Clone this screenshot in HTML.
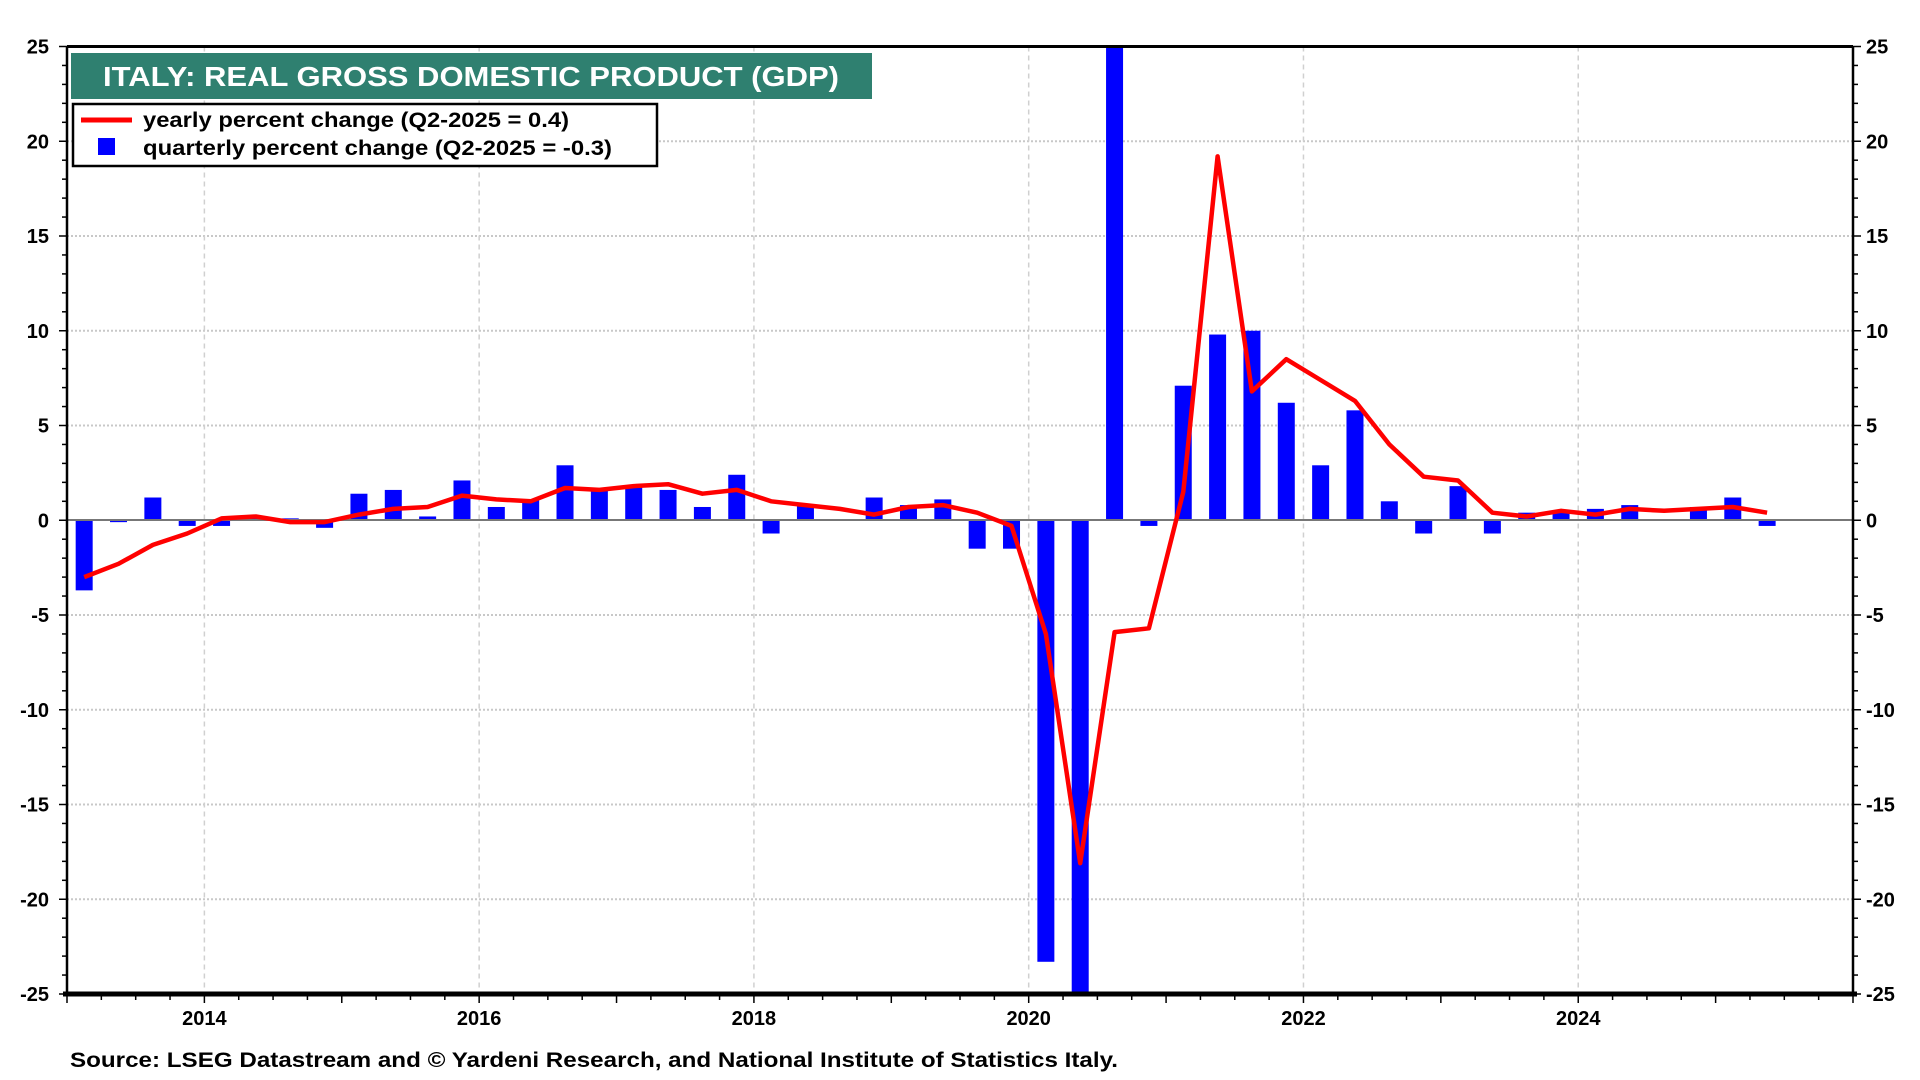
<!DOCTYPE html>
<html><head><meta charset="utf-8"><style>
html,body{margin:0;padding:0;background:#fff;}
svg{display:block;font-family:"Liberation Sans",Arial,sans-serif;font-weight:bold;}
</style></head><body>
<svg id="chart" width="1920" height="1080" viewBox="0 0 1920 1080" xmlns="http://www.w3.org/2000/svg">
<g id="grid"></g>
<g id="bars"></g>
<line x1="67" x2="1853" y1="520" y2="520" stroke="#777" stroke-width="2"/>
<polyline id="line" fill="none" stroke="#ff0000" stroke-width="4.5" stroke-linejoin="round"/>
<g id="axes"></g>
<rect x="71" y="53" width="801" height="46" fill="#2f8070"/>
<text x="103" y="86" fill="#fff" font-size="28" textLength="736" lengthAdjust="spacingAndGlyphs">ITALY: REAL GROSS DOMESTIC PRODUCT (GDP)</text>
<g>
<rect x="73" y="104" width="584" height="62" fill="#fff" stroke="#000" stroke-width="2.5"/>
<line x1="81" x2="132" y1="120" y2="120" stroke="#ff0000" stroke-width="5"/>
<text x="143" y="127" font-size="21" textLength="426" lengthAdjust="spacingAndGlyphs">yearly percent change (Q2-2025 = 0.4)</text>
<rect x="98" y="138" width="17" height="17" fill="#0000ff"/>
<text x="143" y="155" font-size="21" textLength="469" lengthAdjust="spacingAndGlyphs">quarterly percent change (Q2-2025 = -0.3)</text>
</g>
<text x="70" y="1067" font-size="21" textLength="1048" lengthAdjust="spacingAndGlyphs">Source: LSEG Datastream and © Yardeni Research, and  National Institute of Statistics Italy.</text>
</svg>
<script>
const quarterly = [-3.7,-0.1,1.2,-0.3, -0.3,0.2,0.1,-0.4, 1.4,1.6,0.2,2.1, 0.7,1.1,2.9,1.6, 1.8,1.6,0.7,2.4, -0.7,0.8,0.0,1.2, 0.8,1.1,-1.5,-1.5, -23.3,-48,60,-0.3, 7.1,9.8,10.0,6.2, 2.9,5.8,1.0,-0.7, 1.8,-0.7,0.4,0.4, 0.6,0.8,0.0,0.7, 1.2,-0.3];
const yearly = [-3.0,-2.3,-1.3,-0.7, 0.1,0.2,-0.1,-0.1, 0.3,0.6,0.7,1.3, 1.1,1.0,1.7,1.6, 1.8,1.9,1.4,1.6, 1.0,0.8,0.6,0.3, 0.7,0.8,0.4,-0.3, -6.0,-18.1,-5.9,-5.7, 1.5,19.2,6.8,8.5, 7.4,6.3,4.0,2.3, 2.1,0.4,0.2,0.5, 0.3,0.6,0.5,0.6, 0.7,0.4];
const startYear = 2013;
const yTicks = [25,20,15,10,5,0,-5,-10,-15,-20,-25];
const xTickYears = [2014,2016,2018,2020,2022,2024];
const X0=67,X1=1853,Y0=46.5,Y1=994;
const xs = t => X0 + (t-2013)/(2026-2013)*(X1-X0);
const ys = v => Y0 + (25-v)/50*(Y1-Y0);
const clamp = v => Math.max(-25,Math.min(25,v));
const NS="http://www.w3.org/2000/svg";
function mk(tag,attrs,parent){const e=document.createElementNS(NS,tag);for(const k in attrs)e.setAttribute(k,attrs[k]);parent.appendChild(e);return e;}
const grid=document.getElementById('grid'),axes=document.getElementById('axes'),bars=document.getElementById('bars');
yTicks.forEach(v=>{
  if(v!==0&&Math.abs(v)!==25){const g=mk('line',{x1:X0,x2:X1,y1:ys(v),y2:ys(v),stroke:'#c8c8c8','stroke-width':2,'stroke-dasharray':'2 2'},grid);
  
  }
  const l=mk('text',{x:49,y:ys(v)+7,'text-anchor':'end','font-size':20},axes);l.textContent=v;
  
  
  const r=mk('text',{x:1866,y:ys(v)+7,'font-size':20},axes);r.textContent=v;
  
  
});
for(let v=-25;v<=25;v++){const len=v%5===0?8:5;
  mk('line',{x1:X0-len,x2:X0,y1:ys(v),y2:ys(v),stroke:'#000','stroke-width':1.5},axes);
  mk('line',{x1:X1,x2:X1+len,y1:ys(v),y2:ys(v),stroke:'#000','stroke-width':1.5},axes);}
xTickYears.forEach(yr=>{
  const g=mk('line',{x1:xs(yr),x2:xs(yr),y1:Y0,y2:Y1,stroke:'#d0d0d0','stroke-width':1.5,'stroke-dasharray':'5 4'},grid);
  
  
  const t=mk('text',{x:xs(yr),y:1025,'text-anchor':'middle','font-size':20},axes);t.textContent=yr;
  
  
});
for(let q=0;q<=52;q++){const t=2013+q/4;mk('line',{x1:xs(t),x2:xs(t),y1:Y1,y2:Y1+(q%4===0?9:6),stroke:'#000','stroke-width':1.5},axes);}
mk('line',{x1:X0,x2:X0,y1:Y0,y2:Y1,stroke:'#000','stroke-width':2.5},axes);
mk('line',{x1:X1,x2:X1,y1:Y0,y2:Y1,stroke:'#000','stroke-width':2.5},axes);
mk('line',{x1:X0,x2:X1,y1:Y0,y2:Y0,stroke:'#000','stroke-width':3},axes);
mk('line',{x1:X0-4,x2:X1+4,y1:Y1,y2:Y1,stroke:'#000','stroke-width':5},axes);
const bw=17,pts=[];
quarterly.forEach((v,i)=>{
  const t=startYear+i/4+0.125,cx=xs(t),vv=clamp(v);
  const y=Math.min(ys(0),ys(vv)),h=Math.abs(ys(vv)-ys(0));
  const b=mk('rect',{x:cx-bw/2,y:y,width:bw,height:Math.max(h,0.5),fill:'#0000ff'},bars);
  
  
});
yearly.forEach((v,i)=>{pts.push(xs(startYear+i/4+0.125).toFixed(1)+','+ys(v).toFixed(1));});
document.getElementById('line').setAttribute('points',pts.join(' '));
</script>
</body></html>
